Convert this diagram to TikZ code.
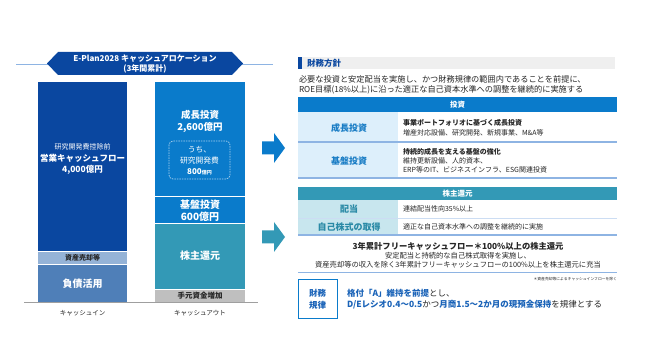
\documentclass[tikz,border=0pt]{standalone}
\usepackage{fontspec}
\setmainfont{Noto Sans CJK JP}
\newcommand\fs[2]{\fontsize{#1}{#2}\selectfont}
\definecolor{dblue}{HTML}{0A47A0}
\definecolor{mblue}{HTML}{0A7BCB}
\definecolor{tealc}{HTML}{3399B6}
\definecolor{gblue}{HTML}{95B3D7}
\definecolor{sblue}{HTML}{4F7FB8}
\definecolor{lgray}{HTML}{BFBFBF}
\definecolor{sepline}{HTML}{8EB4E3}
\definecolor{lbluebg}{HTML}{DDEFFB}
\definecolor{ltealbg}{HTML}{C8E6EE}
\definecolor{labblue}{HTML}{1A7DC5}
\definecolor{labteal}{HTML}{2A8AA6}
\definecolor{hdrgray}{HTML}{EFEFEF}
\definecolor{txt}{HTML}{262626}
\definecolor{discblue}{HTML}{1A63B8}
\tikzset{
  tx/.style={inner sep=0pt, outer sep=0pt, text=txt},
  wb/.style={tx, text=white, align=center},
  sepl/.style={draw=sepline, line width=1.3pt},
}
\begin{document}
\begin{tikzpicture}[x=1pt,y=-1pt]
\useasboundingbox[fill=white] (0,0) rectangle (645,363);

% ---------- left: banner ----------
\coordinate (bl) at (16,64);
\coordinate (br) at (273,64);
\draw[sepline, line width=0.9pt] (bl) -- (br);
\fill[dblue] (47,63.5) -- (58,52) -- (232,52) -- (243,63.5) -- (232,75) -- (58,75) -- cycle;
\node[wb, font=\fs{8}{10}\bfseries] (ban1) at (145,58.5) {E-Plan2028 キャッシュアロケーション};
\node[wb, font=\fs{8}{10}\bfseries] (ban2) at (145,69) {(3年間累計)};

% ---------- left: bars ----------
\fill[dblue] (38,82) rectangle (127,251);
\fill[gblue] (38,251) rectangle (127,264);
\fill[sblue] (38,264) rectangle (127,302);
\draw[white, line width=0.8pt] (38,251) -- (127,251) (38,264) -- (127,264);

\fill[mblue] (155,82) rectangle (245,223);
\fill[tealc] (155,223) rectangle (245,289);
\fill[lgray] (155,289) rectangle (245,302);
\draw[white, line width=0.8pt] (155,196) -- (245,196) (155,223) -- (245,223) (155,289) -- (245,289);

\coordinate (axl) at (24,302.5);
\coordinate (axr) at (258,302.5);
\draw[gray!75, line width=0.9pt] (axl) -- (axr);

\draw[white!65!mblue, dashed, dash pattern=on 1.5pt off 1pt, rounded corners=4pt, line width=0.7pt] (169,141) rectangle (230,179);

\node[wb, font=\fs{7}{8}] (lrd) at (82.5,147) {研究開発費控除前};
\node[wb, font=\fs{8.5}{11}\bfseries] (lcf) at (82.5,164.5) {営業キャッシュフロー\\4,000億円};
\node[tx, font=\fs{7}{8}\bfseries] (lasset) at (82.5,257.8) {資産売却等};
\node[wb, font=\fs{10}{12}\bfseries] (ldebt) at (82.5,283.5) {負債活用};

\node[wb, font=\fs{9.5}{11.5}\bfseries] (rgrow) at (200,121.5) {成長投資\\2,600億円};
\node[wb, font=\fs{7.8}{10.5}] (rrd) at (199.5,155.5) {うち、\\研究開発費};
\node[wb, font=\fs{8}{10}\bfseries] (rrd2) at (199.5,171.5) {800{\fs{5}{6}億円}};
\node[wb, font=\fs{10}{12}\bfseries] (rbase) at (200,211) {基盤投資\\600億円};
\node[wb, font=\fs{10}{12}\bfseries] (rsh) at (200,256) {株主還元};
\node[tx, font=\fs{7.5}{9}\bfseries] (rcash) at (200,295.5) {手元資金増加};

\node[tx, font=\fs{6.5}{8}] (lin) at (82.5,313.5) {キャッシュイン};
\node[tx, font=\fs{6.5}{8}] (lout) at (200,313.5) {キャッシュアウト};

% ---------- arrows ----------
\fill[mblue] (262,141.5) -- (274,141.5) -- (274,133) -- (285,148) -- (274,163) -- (274,154.5) -- (262,154.5) -- cycle;
\fill[tealc] (262,230.5) -- (274,230.5) -- (274,222) -- (285,237) -- (274,252) -- (274,243.5) -- (262,243.5) -- cycle;

% ---------- right: header ----------
\fill[hdrgray] (298,57) rectangle (615,69);
\fill[dblue] (298,57) rectangle (302,69);
\node[tx, text=dblue, anchor=west, font=\fs{8.5}{10}\bfseries] (hdr) at (307,63) {財務方針};
\node[tx, anchor=west, font=\fs{8.2}{10}] (p1) at (299,79) {必要な投資と安定配当を実施し、かつ財務規律の範囲内であることを前提に、};
\node[tx, anchor=west, font=\fs{8.2}{10}] (p2) at (299,89.5) {ROE目標(18\%以上)に沿った適正な自己資本水準への調整を継続的に実施する};

% ---------- investment table ----------
\fill[mblue] (298,97) rectangle (617,112);
\node[wb, font=\fs{7.5}{9}\bfseries] (tinv) at (457.5,104.5) {投資};
\fill[lbluebg] (298,112) rectangle (398,142);
\fill[lbluebg] (298,142) rectangle (398,178);
\draw[sepl] (298,142) -- (617,142);
\draw[sepl] (298,178) -- (617,178);
\node[tx, text=labblue, font=\fs{9}{10}\bfseries] (g1) at (349,128) {成長投資};
\node[tx, anchor=west, font=\fs{7}{8}\bfseries] (g1a) at (403,123) {事業ポートフォリオに基づく成長投資};
\node[tx, anchor=west, font=\fs{7}{8}] (g1b) at (403,133) {増産対応設備、研究開発、新規事業、M\&A等};
\node[tx, text=labblue, font=\fs{9}{10}\bfseries] (g2) at (349,161) {基盤投資};
\node[tx, anchor=west, font=\fs{7}{8}\bfseries] (g2a) at (403,152) {持続的成長を支える基盤の強化};
\node[tx, anchor=west, font=\fs{7}{8}] (g2b) at (403,161) {維持更新設備、人的資本、};
\node[tx, anchor=west, font=\fs{7}{8}] (g2c) at (403,170) {ERP等のIT、ビジネスインフラ、ESG関連投資};

% ---------- shareholder return table ----------
\fill[tealc] (298,187) rectangle (617,200);
\node[wb, font=\fs{7.5}{9}\bfseries] (tsh) at (457.5,193.5) {株主還元};
\fill[ltealbg] (298,200) rectangle (398,235);
\draw[white!55!sepline, line width=0.7pt] (298,218) -- (617,218);
\draw[sepl] (298,235) -- (617,235);
\node[tx, text=labteal, font=\fs{9}{10}\bfseries] (s1) at (349,209) {配当};
\node[tx, anchor=west, font=\fs{7}{8}] (s1a) at (403,209) {連結配当性向35\%以上};
\node[tx, text=labteal, font=\fs{9}{10}\bfseries] (s2) at (349,227) {自己株式の取得};
\node[tx, anchor=west, font=\fs{7}{8}] (s2a) at (403,227) {適正な自己資本水準への調整を継続的に実施};

\node[tx, font=\fs{8.3}{10}\bfseries] (fcf) at (458,246) {3年累計フリーキャッシュフロー＊100\%以上の株主還元};
\node[tx, font=\fs{7.3}{9}] (fcf1) at (458,255.5) {安定配当と持続的な自己株式取得を実施し、};
\node[tx, font=\fs{7.3}{9}] (fcf2) at (458,264.5) {資産売却等の収入を除く3年累計フリーキャッシュフローの100\%以上を株主還元に充当};
\draw[sepl, line width=1pt] (298,272.5) -- (617,272.5);
\node[tx, anchor=east, font=\fs{3.8}{5}] (note) at (617,279.5) {＊資産売却等によるキャッシュインフローを除く};

% ---------- discipline ----------
\node[draw=mblue, line width=1pt, minimum width=39pt, minimum height=38pt, inner sep=0pt, text=discblue, align=center, font=\fs{8.5}{12}\bfseries] (disc) at (317.5,299) {財務\\規律};
\node[tx, anchor=west, font=\fs{8.5}{10}] (d1) at (347,293) {{\bfseries\color{discblue}格付「A」維持を前提}とし、};
\node[tx, anchor=west, font=\fs{8.5}{10}] (d2) at (347,305) {{\bfseries\color{discblue}D/Eレシオ0.4～0.5}かつ{\bfseries\color{discblue}月商1.5～2か月の現預金保持}を規律とする};
\end{tikzpicture}
\end{document}
